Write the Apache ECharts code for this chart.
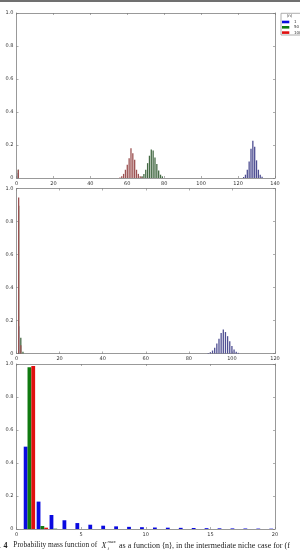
<!DOCTYPE html>
<html><head><meta charset="utf-8">
<script src="https://cdn.jsdelivr.net/npm/echarts@6/dist/echarts.min.js"></script>
<style>html,body{margin:0;padding:0;background:#fff}#c{width:300px;height:553px}</style>
</head><body><div id="c"></div><script>
// ---- Panel 1 (x 0..140) ----
const p1BlueX = [1,123,124,125,126,127,128,129,130,131,132,133];
const p1BlueY = [0.03,0.006,0.02,0.05,0.10,0.178,0.226,0.19,0.107,0.05,0.02,0.008];
const p1GreenX = [1,68,69,70,71,72,73,74,75,76,77,78,79];
const p1GreenY = [0.05,0.01,0.025,0.05,0.09,0.135,0.172,0.166,0.125,0.085,0.045,0.02,0.01];
const p1RedX = [1,56,57,58,59,60,61,62,63,64,65,66,67,68];
const p1RedY = [0.05,0.003,0.01,0.025,0.05,0.08,0.12,0.18,0.15,0.11,0.05,0.025,0.01,0.005];
// ---- Panel 2 (x 0..120) ----
const p2BlueX = [1,89,90,91,92,93,94,95,96,97,98,99,100,101,102,103];
const p2BlueY = [0.165,0.003,0.008,0.018,0.035,0.06,0.09,0.125,0.145,0.13,0.105,0.075,0.045,0.025,0.01,0.004];
const p2GreenX = [1,2,3];
const p2GreenY = [0.895,0.095,0.01];
const p2RedX = [1,2];
const p2RedY = [0.945,0.05];
// ---- Panel 3 (x 0..20) ----
const p3BlueX = [1,2,3,4,5,6,7,8,9,10,11,12,13,14,15,16,17,18,19,20];
const p3BlueY = [0.499,0.166,0.085,0.053,0.036,0.026,0.02,0.016,0.013,0.011,0.009,0.008,0.007,0.006,0.005,0.004,0.0035,0.003,0.0025,0.002];
const p3GreenX = [1,2,3];
const p3GreenY = [0.98,0.018,0.002];
const p3RedX = [1,2];
const p3RedY = [0.988,0.008];
// ---- axes / legend ----
const xRanges = [[0,140,20],[0,120,20],[0,20,5]];
const legendTitle = '⟨n⟩';
const legendNames = ['1','50','100'];

const colsMuted = ['#4e4e92','#446a44','#9c5252'];
const colsBold = ['#0a0ae0','#0f7a0f','#e01010'];
const grids = [
  {left:16.5, top:13, width:258.5, height:165},
  {left:16.5, top:188.5, width:258.5, height:165},
  {left:16.5, top:364, width:258.5, height:165}
];
const lab = {fontSize:5, color:'#333', fontFamily:'DejaVu Sans'};
const xAxis = [], yAxis = [];
xRanges.forEach((r,i)=>{
  const base = {type:'value', gridIndex:i, min:r[0], max:r[1], interval:r[2],
    axisLine:{show:true,onZero:false,lineStyle:{color:'#999',width:1}},
    axisTick:{show:true,inside:true,length:2,lineStyle:{color:'#777',width:0.6}},
    splitLine:{show:false}};
  xAxis.push(Object.assign({}, base, {position:'bottom', axisLabel:Object.assign({margin:3}, lab)}));
  xAxis.push(Object.assign({}, base, {position:'top', axisLabel:{show:false}}));
  const yb = {type:'value', gridIndex:i, min:0, max:1, interval:0.2,
    axisLine:{show:true,onZero:false,lineStyle:{color:'#999',width:1}},
    axisTick:{show:true,inside:true,length:2,lineStyle:{color:'#777',width:0.6}},
    splitLine:{show:false}};
  yAxis.push(Object.assign({}, yb, {position:'left', axisLabel:Object.assign({margin:3, formatter:v=> v===0?'0':v.toFixed(1)}, lab)}));
  yAxis.push(Object.assign({}, yb, {position:'right', axisLabel:{show:false}}));
});
const pairs = (xs,ys)=>xs.map((x,i)=>[x,ys[i]]);
const series = [];
const panels = [
  [[p1BlueX,p1BlueY],[p1GreenX,p1GreenY],[p1RedX,p1RedY]],
  [[p2BlueX,p2BlueY],[p2GreenX,p2GreenY],[p2RedX,p2RedY]],
  [[p3BlueX,p3BlueY],[p3GreenX,p3GreenY],[p3RedX,p3RedY]]
];
panels.forEach((p,i)=>{
  p.forEach((s,j)=>{
    const o = {type:'bar', name:legendNames[j], xAxisIndex:i*2, yAxisIndex:i*2,
      data:pairs(s[0],s[1]), silent:true, animation:false,
      itemStyle:{color: i<2 ? colsMuted[j] : colsBold[j]}};
    if(i<2){ o.barWidth = 1.3; o.barGap = '-100%'; }
    else { o.barWidth = 3.8; o.barGap = '0%'; }
    series.push(o);
  });
});
const graphic = [
  {type:'rect', shape:{x:0,y:0,width:300,height:2}, style:{fill:'#707070'}},
  {type:'rect', shape:{x:281,y:13.3,width:30,height:21.7}, style:{fill:'#fff',stroke:'#999',lineWidth:0.8}},
  {type:'text', x:289.5, y:16.3, style:{text:legendTitle, fontSize:4, fill:'#333', align:'center', verticalAlign:'middle', fontFamily:'DejaVu Sans'}},
];
legendNames.forEach((n,j)=>{
  const y = [22,27.3,32.6][j];
  graphic.push({type:'rect', shape:{x:282,y:y-1.3,width:7.3,height:2.6}, style:{fill:colsBold[j]}});
  graphic.push({type:'text', x:294, y:y, style:{text:n, fontSize:4, fill:'#333', verticalAlign:'middle', fontFamily:'DejaVu Sans'}});
});
const serif = "'Liberation Serif', 'DejaVu Serif', serif";
const cy = 545.5;
graphic.push({type:'text', x:-1, y:cy, style:{text:'.', fontSize:8, fill:'#222', verticalAlign:'middle', fontFamily:serif}});
graphic.push({type:'text', x:3.5, y:cy, style:{text:'4', fontSize:8, fontWeight:'bold', fill:'#222', verticalAlign:'middle', fontFamily:serif}});
graphic.push({type:'text', x:13.3, y:cy, style:{text:'Probability mass function of', fontSize:7.4, fill:'#222', verticalAlign:'middle', fontFamily:serif}});
graphic.push({type:'text', x:101.5, y:cy, style:{text:'X', fontSize:8, fontStyle:'italic', fill:'#222', verticalAlign:'middle', fontFamily:serif}});
graphic.push({type:'text', x:107.5, y:cy-3.5, style:{text:'max', fontSize:5, fontStyle:'italic', fill:'#222', verticalAlign:'middle', fontFamily:serif}});
graphic.push({type:'text', x:107.5, y:cy+3, style:{text:'i', fontSize:5, fontStyle:'italic', fill:'#222', verticalAlign:'middle', fontFamily:serif}});
graphic.push({type:'text', x:119, y:cy, style:{text:'as a function ⟨n⟩, in the intermediate niche case for (f', fontSize:8, fill:'#222', verticalAlign:'middle', fontFamily:serif}});

const chart = echarts.init(document.getElementById('c'), null, {renderer:'canvas'});
chart.setOption({animation:false, backgroundColor:'#fff', grid:grids, xAxis, yAxis, series, graphic});
</script></body></html>
